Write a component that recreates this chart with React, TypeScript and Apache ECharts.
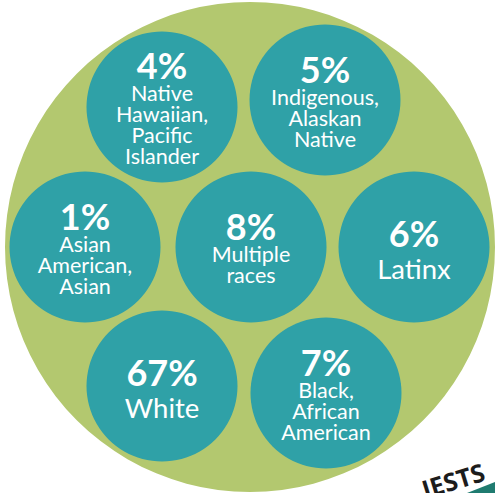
import React, { useEffect, useRef } from "react";
import * as echarts from "echarts";

const categories = [
  "Native Hawaiian, Pacific Islander",
  "Indigenous, Alaskan Native",
  "Asian American, Asian",
  "Multiple races",
  "Latinx",
  "White",
  "Black, African American",
];
const percentages = [4, 5, 1, 8, 6, 67, 7];
const labelLines = [
  ["Native", "Hawaiian,", "Pacific", "Islander"],
  ["Indigenous,", "Alaskan", "Native"],
  ["Asian", "American,", "Asian"],
  ["Multiple", "races"],
  ["Latinx"],
  ["White"],
  ["Black,", "African", "American"],
];
// bubble layout positions (axis units)
const layoutX = [162, 325, 85, 251, 414, 162, 326];
const layoutY = [107, 100, 247, 247, 247, 386, 393];
const footerText = "IESTS";

export default function App() {
  const ref = useRef<HTMLDivElement>(null);
  useEffect(() => {
    if (!ref.current) return;
    const chart = echarts.init(ref.current, null, { renderer: "svg" });
    const bubbles = categories.map((c, i) => ({
      name: c,
      value: [layoutX[i], layoutY[i], percentages[i]],
      lines: labelLines[i],
    }));
    chart.setOption({
      animation: false,
      backgroundColor: "#ffffff",
      grid: { left: 0, right: 0, top: 0, bottom: 0 },
      xAxis: { type: "value", min: 0, max: 495, show: false },
      yAxis: { type: "value", min: 0, max: 493, inverse: true, show: false },
      graphic: [
        {
          type: "circle",
          shape: { cx: 250, cy: 247, r: 245 },
          style: { fill: "#b3c86f" },
          z: 0,
        },
        {
          type: "polygon",
          shape: { points: [[467, 493], [495, 482], [495, 493]] },
          style: { fill: "#1f7b70" },
          z: 0,
        },
        {
          type: "text",
          x: 453,
          y: 480,
          rotation: (17 * Math.PI) / 180,
          style: {
            text: footerText,
            fill: "#1c1c1c",
            font: "bold 25px 'Open Sans'",
            align: "center",
            verticalAlign: "middle",
          },
          z: 1,
        },
      ],
      series: [
        {
          type: "scatter",
          symbol: "circle",
          symbolSize: 151,
          z: 5,
          itemStyle: { color: "#2fa1a7", opacity: 1 },
          data: bubbles,
          label: {
            show: true,
            position: "inside",
            align: "center",
            verticalAlign: "middle",
            formatter: (p: any) => {
              const lines: string[] = p.data.lines;
              const single = lines.length === 1;
              const ps = single ? "q" : "p";
              const ls = single ? "b" : "l";
              return [`{${ps}|${p.data.value[2]}%}`, ...lines.map((t) => `{${ls}|${t}}`)].join("\n");
            },
            rich: {
              p: {
                fontFamily: "Lato",
                fontWeight: "bold",
                fontSize: 36,
                lineHeight: 35,
                color: "#ffffff",
                align: "center",
              },
              q: {
                fontFamily: "Lato",
                fontWeight: "bold",
                fontSize: 36,
                lineHeight: 43,
                color: "#ffffff",
                align: "center",
              },
              l: {
                fontFamily: "Lato",
                fontWeight: "normal",
                fontSize: 21.5,
                lineHeight: 21,
                color: "#ffffff",
                align: "center",
              },
              b: {
                fontFamily: "Lato",
                fontWeight: "normal",
                fontSize: 27.5,
                lineHeight: 28,
                color: "#ffffff",
                align: "center",
              },
            },
          },
          emphasis: { disabled: true },
        },
      ],
    });
    return () => chart.dispose();
  }, []);
  return (
    <div
      ref={ref}
      style={{ position: "absolute", left: 0, top: 0, width: 495, height: 493 }}
    />
  );
}
